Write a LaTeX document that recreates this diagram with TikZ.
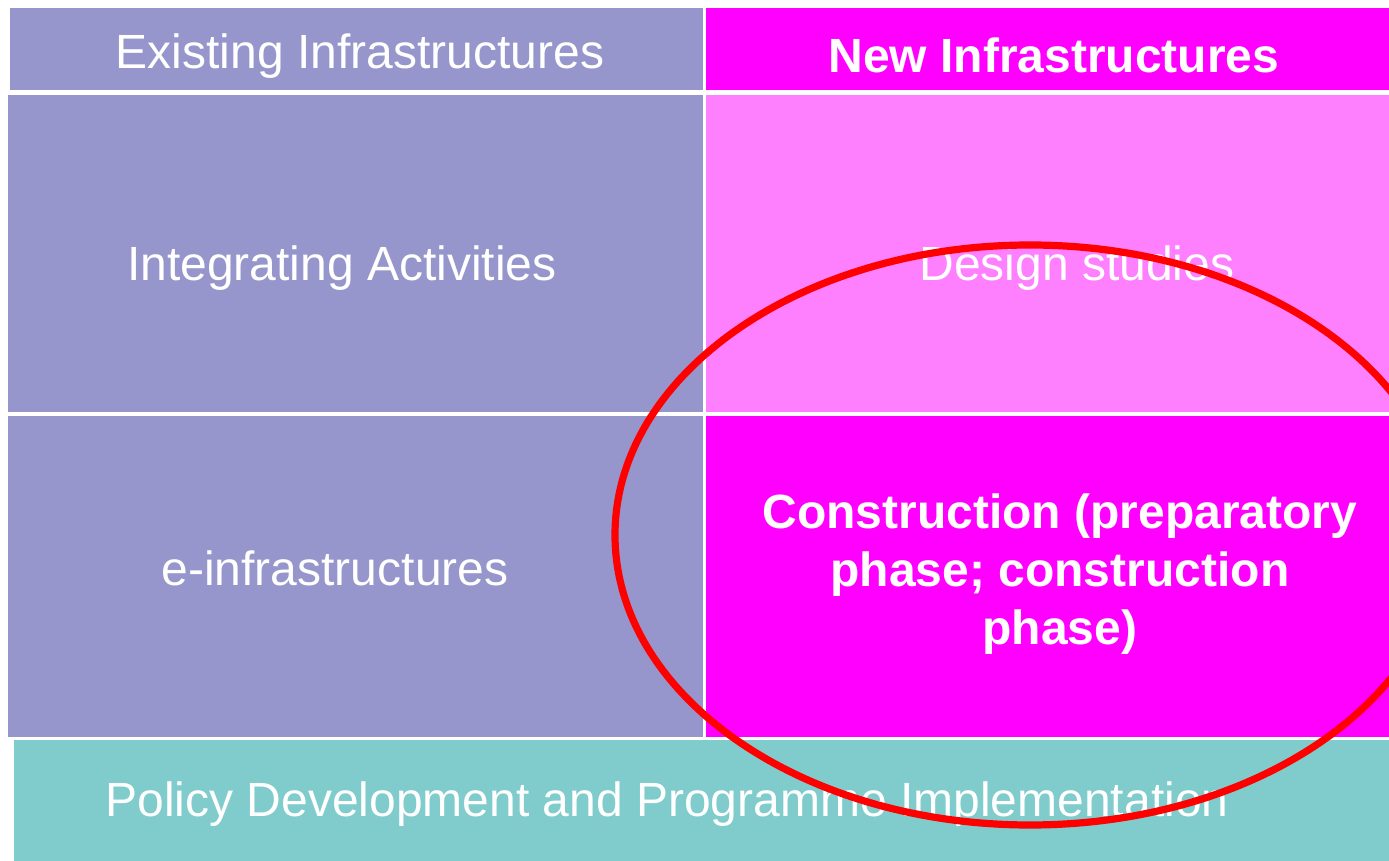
\documentclass[tikz,border=0pt]{standalone}
\usepackage{fontspec}
\setmainfont{Liberation Sans}
\definecolor{lav}{HTML}{9696CC}
\definecolor{mag}{HTML}{FF00FF}
\definecolor{lpink}{HTML}{FF80FF}
\definecolor{teal2}{HTML}{80CCCC}
\begin{document}
\begin{tikzpicture}[x=0.5pt,y=-0.5pt,
  lbl/.style={text=white, font=\fontsize{24}{29}\selectfont, align=center, inner sep=0pt},
  blbl/.style={lbl, font=\fontsize{24}{29}\selectfont\bfseries}]
\useasboundingbox (0,0) rectangle (1389,861);
\fill[white] (0,0) rectangle (1389,861);
\clip (0,0) rectangle (1389,861);
% boxes
\fill[lav] (10,8) rectangle (703,90);
\fill[mag] (706,8) rectangle (1389,90);
\fill[lav] (8,95) rectangle (703,412);
\fill[lpink] (706,95) rectangle (1389,412);
\fill[lav] (8,416) rectangle (703,737);
\fill[mag] (706,416) rectangle (1389,737);
\fill[teal2] (14,740) rectangle (1389,861);
% labels
\node[lbl] (ei) at (360,56) {Existing Infrastructures};
\node[blbl] (ni) at (1054,55) {New Infrastructures};
\node[lbl] (ia) at (342,268) {Integrating Activities};
\node[lbl] (ds) at (1077,268) {Design studies};
\node[lbl] (einf) at (335,568) {e-infrastructures};
\node[blbl] (con) at (1060,574) {Construction (preparatory\\phase; construction\\phase)};
\node[lbl] (pd) at (667,804) {Policy Development and Programme Implementation};
% ellipse
\coordinate (ec) at (1030,535);
\draw[red, line width=3.6pt] (ec) ellipse [x radius=207.5pt, y radius=145pt];
\end{tikzpicture}
\end{document}
